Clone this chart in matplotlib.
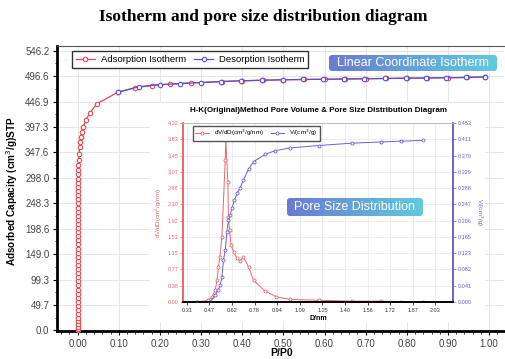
import numpy as np
import matplotlib.pyplot as plt
from matplotlib.patches import FancyBboxPatch, Rectangle
from matplotlib.colors import LinearSegmentedColormap
from matplotlib.ticker import AutoMinorLocator

plt.rcParams['font.family'] = ['Liberation Sans', 'DejaVu Sans']

W, H = 505, 359

# isotherm (P/P0, adsorbed volume cm3/g STP)
ads_p = [0.0, 0.0, 0.0, 0.0, 0.0, 0.0, 0.0, 0.0, 0.0, 0.0, 0.0, 0.0, 0.0, 0.0,
         0.0, 0.0, 0.0, 0.0, 0.0, 0.0, 0.0, 0.0, 0.0, 0.0, 0.0, 0.0, 0.0, 0.0,
         0.0, 0.0, 0.0, 0.0, 0.0, 0.0, 0.0, 0.0, 0.0, 0.0, 0.0, 0.0005, 0.001,
         0.0015, 0.002, 0.003, 0.004, 0.005, 0.006, 0.008, 0.010, 0.014, 0.020,
         0.030, 0.046, 0.097, 0.140, 0.180, 0.225, 0.276, 0.350, 0.400, 0.450,
         0.500, 0.550, 0.600, 0.650, 0.700, 0.750, 0.800, 0.850, 0.900, 0.945,
         0.990]
ads_v = [0.5, 3, 7, 12, 18, 25, 32, 40, 48, 56, 64, 72, 80, 88, 96, 104, 112,
         120, 128, 136, 144, 152, 160, 168, 176, 184, 192, 200, 208, 216, 224,
         232, 240, 248, 256, 264, 272, 280, 288, 296, 305, 314, 323, 333, 345,
         358, 368, 378, 388, 398, 411, 425, 442, 465, 474, 478, 481, 483.5, 486,
         487.5, 488.5, 489.5, 490, 490.5, 491, 491.5, 492, 492.5, 493, 493.5,
         494, 495]
des_p = [0.097, 0.150, 0.200, 0.250, 0.300, 0.348, 0.397, 0.449, 0.498, 0.547,
         0.597, 0.648, 0.697, 0.747, 0.797, 0.846, 0.895, 0.944, 0.989]
des_v = [465, 476, 480, 482, 484, 486, 487.5, 488.5, 489.5, 490, 490.5, 491,
         491.5, 492, 492.5, 493, 493.5, 494, 495]
main_ytick_labels = ["0.0", "49.7", "99.3", "149.0", "198.6", "248.3", "298.0",
                     "347.6", "397.3", "446.9", "496.6", "546.2"]

# H-K pore size distribution
psd_d = [0.382, 0.462, 0.486, 0.508, 0.522, 0.531, 0.541, 0.555, 0.578, 0.582,
         0.596, 0.600, 0.608, 0.619, 0.636, 0.659, 0.681, 0.704, 0.739, 0.774,
         0.850, 0.931, 1.028, 1.224, 1.455, 1.658, 1.795, 1.947]
psd_dvdd = [0.00, 0.04, 0.12, 0.28, 0.51, 0.83, 1.06, 1.54, 3.35, 3.83, 2.84,
            2.01, 1.70, 1.34, 1.18, 1.03, 0.97, 1.06, 0.83, 0.51, 0.27, 0.12,
            0.06, 0.04, 0.02, 0.02, 0.01, 0.01]
vol_d = [0.382, 0.474, 0.508, 0.527, 0.543, 0.555, 0.566, 0.578, 0.590, 0.600,
         0.612, 0.624, 0.642, 0.659, 0.681, 0.704, 0.739, 0.774, 0.855, 0.924,
         1.028, 1.224, 1.455, 1.658, 1.795, 1.947]
vol_v = [0.000, 0.001, 0.017, 0.030, 0.042, 0.063, 0.106, 0.131, 0.178, 0.207,
         0.220, 0.237, 0.258, 0.275, 0.289, 0.309, 0.336, 0.355, 0.374, 0.383,
         0.390, 0.396, 0.402, 0.405, 0.407, 0.409]
psd_xtick_labels = ["0.31", "0.47", "0.62", "0.78", "0.94", "1.09", "1.25",
                    "1.40", "1.56", "1.72", "1.87", "2.03"]
psd_ltick_labels = ["0.00", "0.38", "0.77", "1.15", "1.53", "1.92", "2.30",
                    "2.68", "3.07", "3.45", "3.83", "4.22"]
psd_rtick_labels = ["0.000", "0.041", "0.082", "0.123", "0.165", "0.206",
                    "0.247", "0.288", "0.329", "0.370", "0.411", "0.453"]

RED = '#e5484d'
BLUE = '#5b4fd0'
RED2 = '#e8676b'
BLUE2 = '#6a5fd6'


def px(x0, y0, x1, y1):
    return [x0 / W, 1 - y1 / H, (x1 - x0) / W, (y1 - y0) / H]


fig = plt.figure(figsize=(5.05, 3.59), dpi=100)


def grad_label(x0, y0, x1, y1, text, size):
    a = fig.add_axes(px(x0, y0, x1, y1), zorder=5)
    a.set_axis_off()
    w, h = x1 - x0, y1 - y0
    cmap = LinearSegmentedColormap.from_list('g', ['#6b7bd2', '#5fcbde'])
    im = a.imshow(np.linspace(0, 1, 256).reshape(1, -1), cmap=cmap,
                  aspect='auto', extent=(0, w, 0, h))
    box = FancyBboxPatch((0, 0), w, h, boxstyle='round,pad=0,rounding_size=3',
                         facecolor='none', edgecolor='none')
    a.add_patch(box)
    im.set_clip_path(box)
    a.set_xlim(0, w)
    a.set_ylim(0, h)
    a.text(w / 2, h / 2, text, color='white', fontsize=size,
           ha='center', va='center')


# main isotherm axes
ax = fig.add_axes(px(57, 46, 504, 331))
ax.plot(ads_p, ads_v, '-o', color=RED, mfc='white', ms=3.2, mew=0.8, lw=0.9,
        label='Adsorption Isotherm', clip_on=False, zorder=3)
ax.plot(des_p, des_v, '-o', color=BLUE, mfc='white', ms=3.2, mew=0.8, lw=0.9,
        label='Desorption Isotherm', clip_on=False, zorder=4)
ax.set_xlim(-0.05, 1.036)
ax.set_ylim(-1, 555.4)
ax.set_xticks(np.arange(0, 1.01, 0.1))
ax.set_xticklabels(['%.2f' % v for v in np.arange(0, 1.01, 0.1)])
ax.set_yticks(np.linspace(0, 546.25, 12))
ax.set_yticklabels(main_ytick_labels)
ax.xaxis.set_minor_locator(AutoMinorLocator(5))
ax.yaxis.set_minor_locator(AutoMinorLocator(2))
ax.tick_params(labelsize=7, labelcolor='#444444', length=3, width=0.8,
               pad=2.5)
ax.tick_params(which='minor', length=1.8, width=0.6)
ax.grid(color='#e6e6e6', lw=0.7)
ax.spines['left'].set_linewidth(2)
ax.spines['bottom'].set_linewidth(2)
ax.spines['top'].set_color('#555555')
ax.spines['right'].set_visible(False)
ax.legend(loc='upper left', bbox_to_anchor=(0.034, 0.982), ncol=2,
          fontsize=6.8, fancybox=False, edgecolor='#333333', framealpha=1,
          borderaxespad=0, handlelength=2.0, columnspacing=0.9,
          handletextpad=0.6)

fig.text(263 / W, 1 - 17 / H, 'Isotherm and pore size distribution diagram',
         family='Liberation Serif', weight='bold', fontsize=12.5,
         ha='center', va='center')
fig.text(12 / W, 1 - 191 / H, 'Adsorbed Capacity (cm$^3$/g)STP',
         weight='bold', fontsize=7.2, rotation=90, ha='center', va='center')
fig.text(282 / W, 1 - 353 / H, 'P/P0', weight='bold', fontsize=7.5,
         ha='center', va='center')

# white backing for the inset
fig.add_artist(Rectangle((150 / W, 1 - 322 / H), 335 / W, 219 / H,
                         transform=fig.transFigure, facecolor='white',
                         edgecolor='none', zorder=0.5))

# inset pore size distribution
ins = fig.add_axes(px(183, 123, 453, 302), zorder=1)
ins2 = ins.twinx()
l1, = ins.plot(psd_d, psd_dvdd, '-o', color=RED2, mfc='white', ms=2.2,
               mew=0.6, lw=0.7, label='dV/dD(cm$^3$/g/nm)')
l2, = ins2.plot(vol_d, vol_v, '-o', color=BLUE2, mfc='white', ms=2.2,
                mew=0.6, lw=0.7, label='V/(cm$^3$/g)')
ins.set_xlim(0.286, 2.153)
ins.set_ylim(0, 4.22)
ins2.set_ylim(0, 0.453)
ins.set_xticks(np.linspace(0.3125, 2.03125, 12))
ins.set_xticklabels(psd_xtick_labels)
ins.set_yticks(np.linspace(0, 4.22, 12))
ins.set_yticklabels(psd_ltick_labels)
ins2.set_yticks(np.linspace(0, 0.453, 12))
ins2.set_yticklabels(psd_rtick_labels)
ins.grid(color='#e8e8e8', lw=0.5)
ins.tick_params(axis='x', labelsize=4, length=2, width=0.5, pad=2,
                labelcolor='#333333')
ins.tick_params(axis='y', labelsize=4, length=2, width=0.5, pad=1.5,
                colors=RED2)
ins2.tick_params(axis='y', labelsize=4, length=2, width=0.5, pad=1.5,
                 colors=BLUE2)
for a in (ins, ins2):
    a.spines['left'].set_color(RED2)
    a.spines['left'].set_linewidth(1.2)
    a.spines['right'].set_color(BLUE2)
    a.spines['right'].set_linewidth(1.2)
    a.spines['bottom'].set_linewidth(1.2)
    a.spines['top'].set_color('#bbbbbb')
    a.spines['top'].set_linewidth(0.6)
ins.set_ylabel('dV/dD(cm$^3$/g/nm)', fontsize=4.5, color=RED2, labelpad=2)
ins2.set_ylabel('V/(cm$^3$/g)', fontsize=4.5, color=BLUE2, rotation=270,
                labelpad=9)
ins.set_xlabel('D/nm', fontsize=5, weight='bold', labelpad=2)
ins.set_title('H-K(Original)Method Pore Volume & Pore Size Distribution Diagram',
              fontsize=5.8, weight='bold', pad=8)
ins2.legend([l1, l2], [l1.get_label(), l2.get_label()], loc='upper left',
            bbox_to_anchor=(0.037, 0.985), ncol=2, fontsize=4.5,
            fancybox=False, edgecolor='#555555', framealpha=1,
            borderaxespad=0, handlelength=2.2, columnspacing=1.0)

grad_label(329, 55, 497, 71, 'Linear Coordinate Isotherm', 9)
grad_label(287, 198, 423, 216, 'Pore Size Distribution', 9)

fig.savefig('out.png', dpi=100)
